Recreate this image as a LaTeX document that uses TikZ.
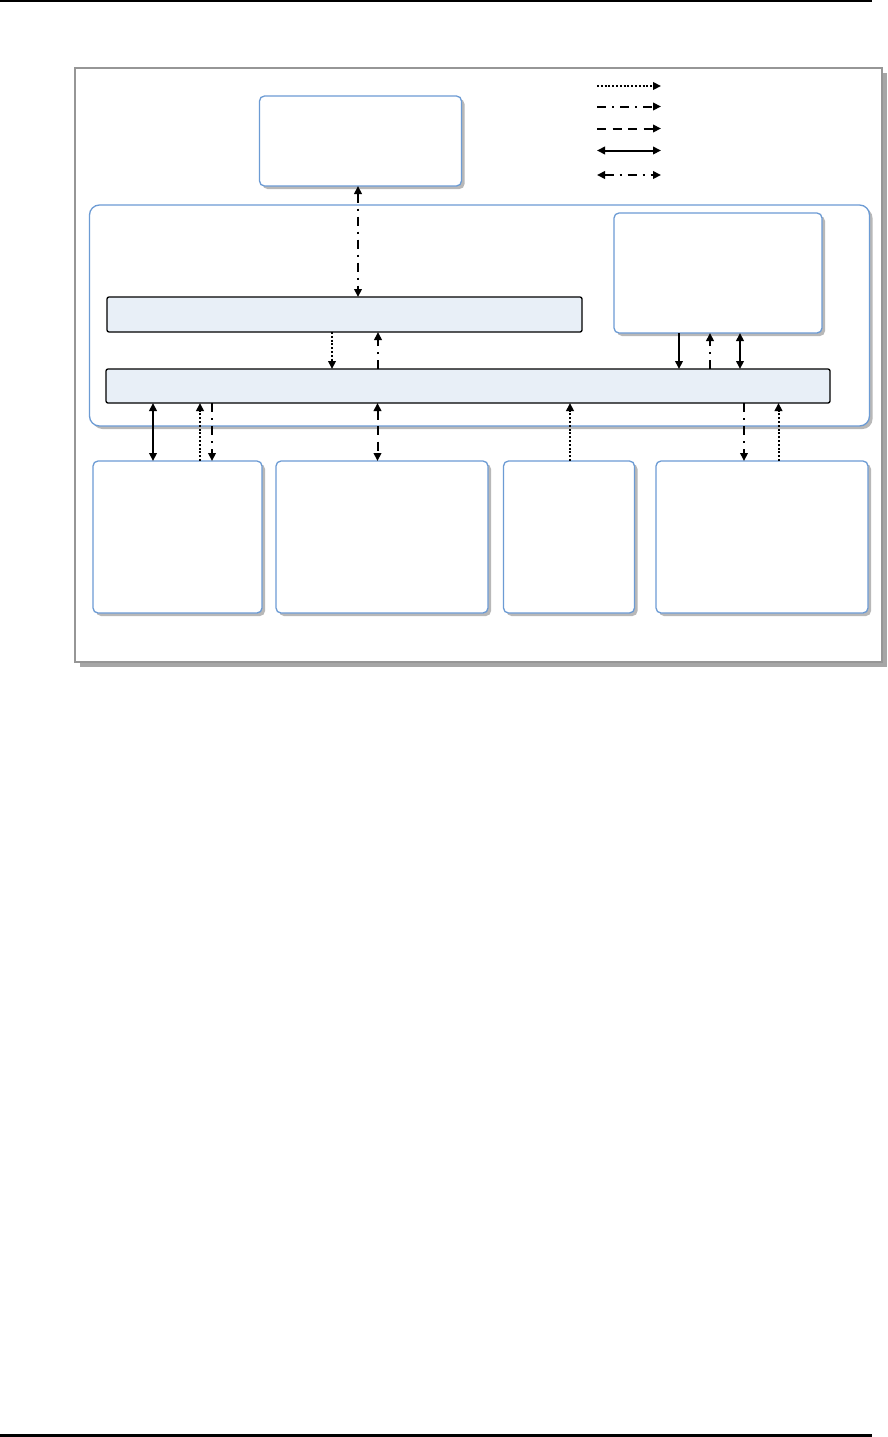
\documentclass[tikz,border=0pt]{standalone}
\usetikzlibrary{arrows.meta,shadows}
\definecolor{boxblue}{RGB}{108,155,212}
\definecolor{barfill}{RGB}{232,239,247}
\definecolor{framegray}{RGB}{150,150,150}
\begin{document}
\begin{tikzpicture}[x=1pt,y=-1pt,
  shad/.style={drop shadow={shadow xshift=3pt,shadow yshift=-3pt,fill=black!28,opacity=1}},
  frame/.style={draw=framegray,line width=1.3pt,fill=white,inner sep=0,outer sep=0,anchor=north west,
    drop shadow={shadow xshift=5pt,shadow yshift=-5pt,fill=black!35,opacity=1}},
  box/.style={draw=boxblue,line width=1.3pt,fill=white,rounded corners=5pt,inner sep=0,outer sep=0,anchor=north west,shad},
  container/.style={draw=boxblue,line width=1.3pt,fill=white,rounded corners=10pt,inner sep=0,outer sep=0,anchor=north west,shad},
  bar/.style={draw=black,line width=1.3pt,fill=barfill,rounded corners=2pt,inner sep=0,outer sep=0,anchor=north west},
  conn/.style={line width=2pt,>={Triangle[length=8pt,width=7.5pt]}},
  dotline/.style={conn,dash pattern=on 2pt off 1.8pt},
  dashdot/.style={conn,dash pattern=on 9pt off 6pt on 2pt off 6pt},
  dashline/.style={conn,dash pattern=on 9pt off 6.5pt},
  solidline/.style={conn}
]
\useasboundingbox (0,0) rectangle (888,1437);
% page rules
\draw[line width=1.5pt] (0,1.2) -- (872,1.2);
\draw[line width=3pt] (0,1435.5) -- (872,1435.5);

% outer frame
\node[frame,minimum width=807pt,minimum height=594pt] (fr) at (75,68) {};

% container
\node[container,minimum width=780pt,minimum height=221pt] (cont) at (89.5,205) {};

% top box
\node[box,minimum width=202pt,minimum height=90pt] (A) at (259.5,96) {};
% right inner box
\node[box,minimum width=208pt,minimum height=120pt] (B) at (614,213) {};
% bars
\node[bar,minimum width=475pt,minimum height=35pt] (bar1) at (107,297) {};
\node[bar,minimum width=724pt,minimum height=34pt] (bar2) at (106,369) {};
% bottom boxes
\node[box,minimum width=169pt,minimum height=152pt] (C) at (93,461) {};
\node[box,minimum width=212pt,minimum height=152pt] (D) at (276,461) {};
\node[box,minimum width=131pt,minimum height=152pt] (E) at (503.5,461) {};
\node[box,minimum width=212pt,minimum height=152pt] (F) at (656,461) {};

% connectors
\draw[dashdot,<->] (358,0 |- A.south) -- (358,0 |- bar1.north);
\draw[dotline,->] (332,0 |- bar1.south) -- (332,0 |- bar2.north);
\draw[dashdot,->] (378,0 |- bar2.north) -- (378,0 |- bar1.south);
\draw[solidline,->] (679,0 |- B.south) -- (679,0 |- bar2.north);
\draw[dashdot,->] (710,0 |- bar2.north) -- (710,0 |- B.south);
\draw[solidline,<->] (740,0 |- B.south) -- (740,0 |- bar2.north);

\draw[solidline,<->] (153,0 |- bar2.south) -- (153,0 |- C.north);
\draw[dotline,->] (200,0 |- C.north) -- (200,0 |- bar2.south);
\draw[dashdot,->] (212,0 |- bar2.south) -- (212,0 |- C.north);
\draw[dashline,<->] (377.5,0 |- bar2.south) -- (377.5,0 |- D.north);
\draw[dotline,->] (570,0 |- E.north) -- (570,0 |- bar2.south);
\draw[dashdot,->] (744,0 |- bar2.south) -- (744,0 |- F.north);
\draw[dotline,->] (778.5,0 |- F.north) -- (778.5,0 |- bar2.south);

% legend
\coordinate (l1a) at (597,86);    \coordinate (l1b) at (661,86);
\coordinate (l2a) at (597,106.5); \coordinate (l2b) at (661,106.5);
\coordinate (l3a) at (597,128.5); \coordinate (l3b) at (661,128.5);
\coordinate (l4a) at (597,150.5); \coordinate (l4b) at (661,150.5);
\coordinate (l5a) at (597,175);   \coordinate (l5b) at (661,175);
\draw[dotline,->] (l1a) -- (l1b);
\draw[dashdot,->] (l2a) -- (l2b);
\draw[dashline,->] (l3a) -- (l3b);
\draw[solidline,<->] (l4a) -- (l4b);
\draw[dashdot,<->] (l5a) -- (l5b);
\end{tikzpicture}
\end{document}
